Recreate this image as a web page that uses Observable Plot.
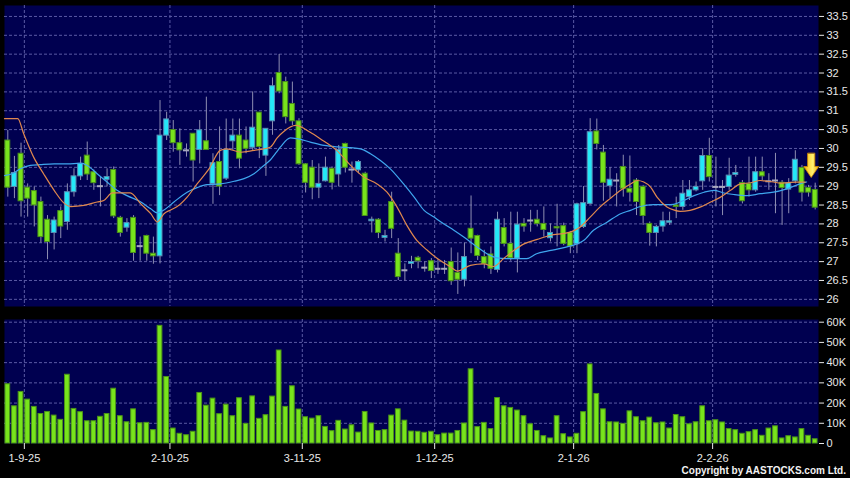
<!DOCTYPE html>
<html><head><meta charset="utf-8">
<script src="https://cdn.jsdelivr.net/npm/d3@7"></script>
<script src="https://cdn.jsdelivr.net/npm/@observablehq/plot@0.6"></script>
<style>
html,body{margin:0;padding:0;background:#000;}
#chart{position:relative;width:850px;height:478px;background:#000;overflow:hidden;}
#price,#volume{position:absolute;left:0;}
#price{top:0;}
#volume{top:312px;}
#copy{position:absolute;right:4px;top:465px;line-height:10px;color:#f2f2f2;font:bold 10px "Liberation Sans",Arial,sans-serif;white-space:nowrap;}
</style></head>
<body>
<div id="chart"><div id="price"></div><div id="volume"></div><div id="copy">Copyright by AASTOCKS.com Ltd.</div></div>
<script>
// ---- daily candles (index 0 = oldest bar) ----
const opens = [30.21,28.98,29.86,28.96,28.87,28.58,28.11,27.76,28.34,28.05, 28.84,29.26,29.81,29.37,29.00,29.17,29.43,28.16,27.90,28.16, 27.41,27.68,27.21,27.14,30.34,30.49,30.14,29.95,30.39,29.96, 30.19,29.06,29.64,29.20,30.19,30.34,30.21,30.02,30.95,29.81, 30.72,32.00,31.76,31.18,30.72,29.58,29.49,28.96,29.13,29.46, 29.31,30.12,29.44,29.42,29.33,28.07,28.11,27.63,28.58,27.21, 26.77,26.94,27.10,26.84,27.01,26.81,26.81,26.99,26.70,26.52, 27.87,27.68,27.12,27.19,26.78,27.89,27.47,27.08,28.00,28.09, 28.11,28.00,27.62,27.92,27.94,27.76,27.46,27.92,28.53,30.45, 29.89,29.00,29.15,29.51,28.93,29.15,28.98,28.00,27.76,27.93, 28.03,28.49,28.45,28.71,28.89,29.13,29.80,28.98,28.98,28.98, 29.30,29.08,29.06,28.89,29.37,29.13,29.15,29.09,28.91,29.13, 29.48,28.95,28.90];
const highs = [30.48,29.79,30.14,29.06,28.98,28.71,28.22,28.18,28.45,29.06, 29.46,29.77,30.17,29.43,29.24,29.46,29.51,28.20,28.14,28.22, 27.65,27.70,27.65,31.27,30.96,30.74,30.52,30.12,30.39,30.74, 31.36,29.86,30.57,30.78,30.78,30.78,30.57,31.50,30.95,30.52, 31.87,32.49,31.89,31.76,30.79,29.60,29.68,29.59,29.77,29.51, 30.08,30.14,29.64,29.68,29.37,28.18,28.14,27.83,28.84,27.61, 26.94,27.14,27.14,26.99,27.08,27.05,27.03,27.36,27.23,27.49, 28.74,27.70,27.30,27.39,28.31,28.14,28.31,28.31,28.14,28.36, 28.36,28.45,28.00,28.52,28.02,27.80,28.55,28.99,30.79,30.78, 30.08,29.49,29.33,29.82,29.80,29.20,29.02,28.05,27.96,28.31, 28.31,28.71,29.15,29.15,29.11,29.99,30.27,29.77,29.15,29.74, 29.55,29.15,29.77,29.77,29.77,29.33,29.87,29.15,29.20,29.94, 29.55,29.02,29.08];
const lows = [28.71,28.67,28.18,28.18,27.92,27.49,27.05,27.31,27.61,27.83, 28.71,29.15,29.15,28.89,28.45,28.98,28.14,27.65,27.78,27.01, 27.01,27.01,26.93,26.94,30.21,29.90,29.55,29.77,29.11,29.59, 29.96,28.52,28.75,29.15,29.95,29.46,29.86,29.95,29.73,29.26, 30.35,31.45,30.65,30.61,29.55,28.82,28.64,28.67,29.11,28.90, 28.98,29.35,29.08,29.33,28.21,27.76,27.61,27.52,27.61,26.50, 26.48,26.81,26.81,26.72,26.55,26.66,26.66,26.37,26.13,26.33, 27.21,27.03,26.81,26.66,26.70,27.39,27.01,26.70,27.78,27.78, 27.92,27.65,27.52,27.39,27.42,27.21,27.21,27.88,28.50,29.96, 28.60,28.67,28.45,28.71,28.58,28.22,27.96,27.41,27.39,27.78, 27.96,28.14,28.36,28.62,28.85,28.89,29.11,28.45,28.22,28.89, 29.24,28.53,28.71,28.84,29.15,28.89,28.27,27.96,28.27,29.06, 28.58,28.71,28.37];
const closes = [28.96,29.35,28.60,28.67,28.49,27.65,27.52,28.09,27.93,28.84, 29.26,29.59,29.31,29.08,29.00,29.24,28.20,27.76,28.02,27.23, 27.41,27.21,27.14,30.34,30.77,30.14,29.95,29.95,29.68,30.48, 29.96,29.61,28.99,29.96,30.34,29.73,29.99,30.55,30.04,30.52, 31.65,31.51,30.83,30.72,29.58,29.09,28.96,29.06,29.49,29.09, 29.96,29.49,29.44,29.64,28.21,28.11,27.76,27.68,27.87,26.59, 26.77,26.99,27.01,26.84,26.75,26.81,26.81,26.48,26.52,27.12, 27.61,27.15,26.94,26.81,28.11,27.47,27.09,27.98,27.93,28.09, 28.00,27.84,27.76,27.88,27.47,27.40,28.52,28.55,30.43,30.12, 29.09,29.17,29.15,28.93,28.83,28.58,28.21,27.76,27.92,28.07, 28.07,28.45,28.80,28.89,28.98,29.80,29.24,28.98,28.98,29.28, 29.35,28.60,28.89,29.37,29.26,29.13,29.15,28.95,29.08,29.70, 28.83,28.83,28.43];
// volume in thousands of shares
const volumes = [29.3,18.4,25.5,21.7,18.1,14.6,15.6,13.8,11.7,34.0, 17.1,15.5,11.0,11.0,13.2,14.6,27.1,13.5,10.5,16.9, 10.0,10.2,6.6,58.2,32.9,7.4,4.8,4.1,5.8,25.0, 18.7,22.2,14.5,19.2,13.5,22.4,9.7,23.3,12.2,14.0, 23.2,46.0,18.1,28.3,16.8,13.0,12.3,13.5,8.2,6.1, 11.2,6.9,9.0,5.4,15.6,9.9,6.2,6.6,13.8,16.9, 11.3,5.9,5.8,5.3,5.8,4.1,4.9,4.9,6.2,9.9, 36.7,8.1,10.2,7.1,22.5,18.4,17.6,16.3,13.5,9.5, 6.2,3.6,2.5,13.5,4.6,3.0,4.8,15.5,39.1,24.5, 16.9,10.5,10.4,9.7,15.9,13.0,11.0,12.8,10.0,10.4, 7.4,14.1,13.0,9.5,10.5,18.4,11.0,11.5,10.4,7.1, 6.6,4.8,5.6,6.6,3.8,7.4,8.5,2.5,3.6,3.0, 7.1,3.8,2.1];

// ---- moving averages (bar position, price) ----
const ma10Pos = [-0.5,1.5,2.4,3.9,5.4,7.0,8.5,9.5,11.5,13.5,14.5,15.8,18.5,20.1,21.6,22.6,23.6,24.6,25.6,27.1,28.6,30.4,32.1,33.1,35.2,37.2,38.7,39.7,40.7,41.7,43.5,45.7,47.2,49.7,51.8,53.8,55.8,57.3,58.8,60.3,61.8,63.4,64.9,66.9,67.9,69.9,71.9,73.4,74.9,76.5,78.0,80.0,82.0,84.5,86.5,88.0,89.5,91.0,92.6,94.1,95.1,96.1,97.1,98.1,99.6,100.6,101.6,103.1,104.7,106.2,107.7,109.2,110.7,112.2,113.7,114.7,115.7,116.7,117.7,119.2,120.5];
const ma10Val = [30.79,30.79,30.39,29.77,29.33,28.89,28.55,28.46,28.49,28.58,28.62,28.82,28.82,28.53,28.27,28.05,28.27,28.37,28.46,28.71,29.06,29.46,29.95,29.99,29.90,29.95,29.99,30.04,30.28,30.45,30.61,30.43,30.26,29.95,29.55,29.24,29.06,28.84,28.45,27.96,27.56,27.30,27.08,26.86,26.75,26.90,26.94,26.87,27.08,27.30,27.47,27.59,27.70,27.76,27.92,28.18,28.45,28.67,28.89,29.06,29.15,29.11,28.98,28.71,28.45,28.37,28.33,28.36,28.45,28.58,28.71,28.89,29.06,29.09,29.15,29.13,29.11,29.08,29.09,29.11,29.11];
const ma20Pos = [-0.5,0.9,1.9,3.4,4.9,7.0,9.0,11.0,12.0,13.5,15.0,16.5,18.0,20.1,21.6,22.6,23.6,25.1,27.1,28.6,30.1,32.1,34.2,35.7,37.2,38.7,39.7,40.5,41.2,42.7,43.7,45.7,47.8,49.8,51.8,53.3,54.8,56.3,57.8,59.8,61.4,62.9,64.4,65.9,67.4,68.9,70.9,72.4,73.9,75.4,76.9,78.4,79.9,81.5,83.0,84.5,86.0,87.0,88.5,90.6,92.6,94.1,95.6,97.6,99.6,100.6,102.1,103.7,105.2,106.7,108.2,109.7,111.7,113.7,115.7,117.7,119.7,120.7];
const ma20Val = [29.28,29.35,29.46,29.55,29.57,29.59,29.59,29.61,29.55,29.33,29.11,28.89,28.75,28.58,28.40,28.29,28.37,28.58,28.84,28.96,29.04,29.06,29.13,29.20,29.33,29.55,29.70,29.88,30.04,30.28,30.26,30.17,30.08,30.04,30.02,29.99,29.86,29.68,29.46,29.06,28.71,28.36,28.18,28.00,27.83,27.65,27.39,27.21,27.10,27.08,27.08,27.08,27.21,27.28,27.33,27.39,27.47,27.56,27.83,28.05,28.27,28.36,28.46,28.51,28.51,28.52,28.62,28.75,28.84,28.89,28.82,28.78,28.75,28.80,28.84,28.93,29.06,29.11];

// ---- axes ----
const monthStartBars = [3, 25, 45, 65, 86, 107];
const monthLabels = ["1-9-25", "2-10-25", "3-11-25", "1-12-25", "2-1-26", "2-2-26"];
const priceTicks = [26,26.5,27,27.5,28,28.5,29,29.5,30,30.5,31,31.5,32,32.5,33,33.5];
const volumeTicks = [0,10,20,30,40,50,60];
const signal = [{bar: 121.4, price: 29.23}];

// ---- build tables ----
const N = opens.length;
const bars = opens.map((o, i) => ({i, open: o, high: highs[i], low: lows[i], close: closes[i], vol: volumes[i]}));
const upBars = bars.filter(d => d.close > d.open);
const downBars = bars.filter(d => d.close < d.open);
const flatBars = bars.filter(d => d.close === d.open);
const ma10 = ma10Pos.map((x, k) => ({x, y: ma10Val[k]}));
const ma20 = ma20Pos.map((x, k) => ({x, y: ma20Val[k]}));
const gridX = monthStartBars.map(m => m - 0.5);
const labelOf = new Map(gridX.map((g, k) => [g, monthLabels[k]]));

const W = 850;
const xScale = {domain: [-0.5, N - 0.5], axis: null};
const grid = {stroke: "#5a5aa4", strokeDasharray: "3,2", strokeWidth: 1};
const style = {background: "transparent", color: "#e8e8e8", fontFamily: "'Liberation Sans', Arial, sans-serif", fontSize: "11px", overflow: "visible"};

const blockArrow = {
  draw(context, l) {
    const hw = 7.5, sw = 3.6, hl = 11;
    context.moveTo(-sw, 0);
    context.lineTo(-sw, -(l - hl));
    context.lineTo(-hw, -(l - hl));
    context.lineTo(0, -l);
    context.lineTo(hw, -(l - hl));
    context.lineTo(sw, -(l - hl));
    context.lineTo(sw, 0);
    context.closePath();
  }
};

const price = Plot.plot({
  width: W, height: 312,
  marginTop: 5, marginBottom: 6, marginLeft: 4, marginRight: 32,
  x: xScale,
  y: {domain: [25.81, 33.79], axis: null},
  style,
  marks: [
    Plot.frame({fill: "#000050", stroke: "none"}),
    Plot.ruleY(priceTicks, grid),
    Plot.ruleX(gridX, grid),
    Plot.ruleX(bars, {x: "i", y1: "low", y2: "high", stroke: "#8e8eb2", strokeWidth: 1}),
    Plot.rect(downBars, {x1: d => d.i - 0.5, x2: d => d.i + 0.5, y1: "open", y2: "close", insetLeft: 0.85, insetRight: 0.85, fill: "#78e41c", stroke: "#4a8f1c", strokeWidth: 1}),
    Plot.rect(upBars, {x1: d => d.i - 0.5, x2: d => d.i + 0.5, y1: "open", y2: "close", insetLeft: 0.85, insetRight: 0.85, fill: "#24e8f8", stroke: "#5a8db4", strokeWidth: 1}),
    Plot.ruleY(flatBars, {y: "open", x1: d => d.i - 0.45, x2: d => d.i + 0.45, stroke: "#a8a8c0", strokeWidth: 2}),
    Plot.line(ma20, {x: "x", y: "y", stroke: "#3fa6ee", strokeWidth: 1.2, curve: "monotone-x"}),
    Plot.line(ma10, {x: "x", y: "y", stroke: "#e0884e", strokeWidth: 1.2, curve: "monotone-x"}),
    Plot.vector(signal, {x: "bar", y: "price", length: 24, rotate: 180, anchor: "end", shape: blockArrow, fill: "url(#arrowGrad)", stroke: "#d08a00", strokeWidth: 0.8}),
    Plot.axisY(priceTicks, {anchor: "right", tickSize: 5, tickPadding: 3, label: null, tickFormat: d => String(d)})
  ]
});

const ns = "http://www.w3.org/2000/svg";
const defs = document.createElementNS(ns, "defs");
defs.innerHTML = '<linearGradient id="arrowGrad" x1="0" x2="1" y1="0" y2="0"><stop offset="0" stop-color="#f0a800"/><stop offset="0.4" stop-color="#fff070"/><stop offset="0.7" stop-color="#ffd83a"/><stop offset="1" stop-color="#eea000"/></linearGradient>';
price.insertBefore(defs, price.firstChild);
document.getElementById("price").appendChild(price);

const volume = Plot.plot({
  width: W, height: 166,
  marginTop: 7, marginBottom: 35, marginLeft: 4, marginRight: 32,
  x: xScale,
  y: {domain: [0, 61.33], axis: null},
  style,
  marks: [
    Plot.frame({fill: "#000050", stroke: "none"}),
    Plot.ruleY(volumeTicks.filter(v => v > 0), grid),
    Plot.ruleX(gridX, grid),
    Plot.rect(bars, {x1: d => d.i - 0.5, x2: d => d.i + 0.5, y1: 0, y2: "vol", insetLeft: 0.95, insetRight: 0.95, fill: "#78e41c", stroke: "#4c9418", strokeWidth: 1}),
    Plot.axisY(volumeTicks, {anchor: "right", tickSize: 5, tickPadding: 3, label: null, tickFormat: d => d === 0 ? "0" : d + "K"}),
    Plot.axisX(gridX, {anchor: "bottom", tickSize: 6, tickPadding: 5, label: null, tickFormat: d => labelOf.get(d)})
  ]
});
document.getElementById("volume").appendChild(volume);
</script>
</body></html>
